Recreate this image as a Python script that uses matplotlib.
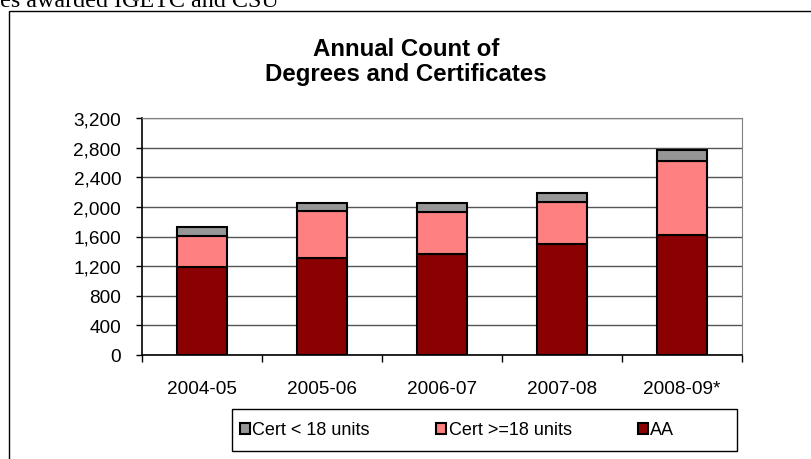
import matplotlib.pyplot as plt
from matplotlib.patches import Rectangle
import numpy as np

plt.rcParams['font.family'] = ['Liberation Sans', 'DejaVu Sans']

years = ['2004-05', '2005-06', '2006-07', '2007-08', '2008-09*']
aa = [1189, 1311, 1370, 1500, 1622]
cert_ge18 = [424, 635, 562, 568, 996]
cert_lt18 = [122, 104, 118, 121, 148]

W, H = 811, 460
fig = plt.figure(figsize=(W / 100, H / 100), dpi=100)

# outer chart frame (cut off at the right and bottom)
fig.add_artist(Rectangle((9 / W, -0.1), 1.2, 1 - 12 / H + 0.1, transform=fig.transFigure,
                         fill=False, edgecolor='black', lw=1.0))
fig.text(0, 1 - 7 / H, 'es awarded IGETC and CSU', family='Liberation Serif',
         fontsize=17.4, va='baseline', ha='left')

ax = fig.add_axes([142 / W, (H - 356) / H, 600 / W, (356 - 119) / H])
x = np.arange(len(years))
bw = 0.41
ax.bar(x, aa, bw, color='#8B0000', edgecolor='black', lw=1.5, label='AA', zorder=3)
ax.bar(x, cert_ge18, bw, bottom=aa, color='#FF8080', edgecolor='black', lw=1.5,
       label='Cert >=18 units', zorder=3)
bottom2 = np.array(aa) + np.array(cert_ge18)
ax.bar(x, cert_lt18, bw, bottom=bottom2, color='#969696', edgecolor='black', lw=1.5,
       label='Cert < 18 units', zorder=3)

ax.set_xlim(-0.5, len(years) - 0.5)
ax.set_ylim(0, 3200)
ax.set_yticks(np.arange(0, 3201, 400))
ax.set_yticklabels([f'{v:,}' for v in range(0, 3201, 400)], fontsize=13.7)
ax.yaxis.grid(True, color='#555555', lw=1.0, zorder=0)
ax.tick_params(axis='y', length=4, width=1, pad=11)

ax.set_xticks(np.arange(-0.5, len(years), 1))
ax.set_xticklabels([])
ax.set_xticks(x, minor=True)
ax.set_xticklabels(years, minor=True, fontsize=13.7)
ax.tick_params(axis='x', which='major', length=5, width=1)
ax.tick_params(axis='x', which='minor', length=0, pad=18)

for s in ['top', 'right']:
    ax.spines[s].set_color('#808080')
for s in ['left', 'bottom']:
    ax.spines[s].set_color('black')
    ax.spines[s].set_linewidth(1.2)

fig.text(406 / W, 1 - 62 / H, 'Annual Count of\nDegrees and Certificates', ha='center',
         va='center', fontsize=17.3, fontweight='bold', linespacing=1.15)

# legend box
fig.add_artist(Rectangle((232 / W, 1 - 452 / H), 505 / W, 42 / H, transform=fig.transFigure,
                         fill=False, edgecolor='black', lw=1.0))
handles, labels = ax.get_legend_handles_labels()
leg = fig.legend(handles[::-1], labels[::-1], ncol=3, loc='center left',
                 bbox_to_anchor=(240 / W, 1 - 431 / H), fontsize=13, frameon=False,
                 handlelength=0.55, handleheight=0.55, handletextpad=0.12,
                 columnspacing=3.7, borderpad=0, borderaxespad=0)

fig.savefig('out.png', dpi=100)
